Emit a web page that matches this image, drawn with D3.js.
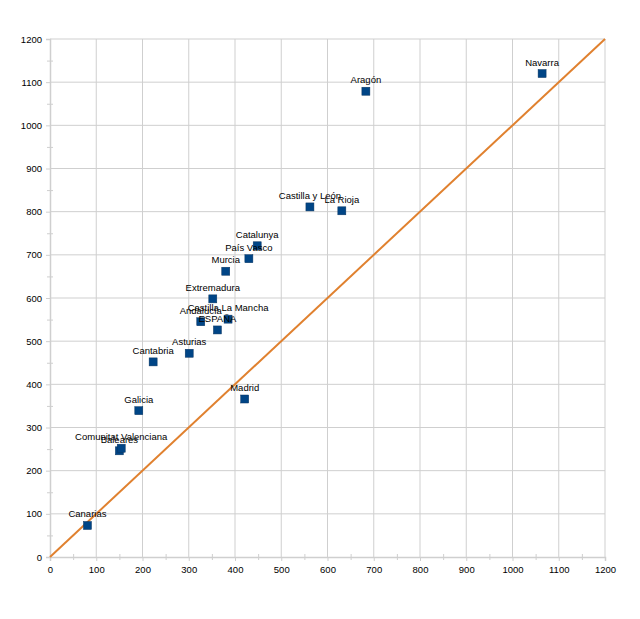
<!DOCTYPE html>
<html>
<head>
<meta charset="utf-8">
<script src="https://cdn.jsdelivr.net/npm/d3@7"></script>
<style>
  body { margin: 0; background: #fff; }
  svg text { font-family: "Liberation Sans", Arial, sans-serif; }
</style>
</head>
<body>
<script>
// regions and their values (x, y)
const regions = ["Canarias", "Baleares", "Comunitat Valenciana", "Galicia", "Cantabria",
  "Asturias", "Andalucía", "ESPAÑA", "Castilla La Mancha", "Extremadura", "Murcia",
  "País Vasco", "Catalunya", "Castilla y León", "La Rioja", "Aragón", "Navarra", "Madrid"];
const xValues = [81, 150, 154, 192, 223, 301, 326, 362, 385, 352, 380, 430, 448, 562, 631, 683, 1064, 421];
const yValues = [73, 246, 252, 339, 452, 472, 545, 526, 551, 598, 662, 691, 721, 811, 802, 1079, 1120, 366];
const ticks = [0, 100, 200, 300, 400, 500, 600, 700, 800, 900, 1000, 1100, 1200];
const minorTicks = d3.range(50, 1200, 100);
const diagonal = [0, 1200];

const W = 640, H = 619;
const margin = { top: 39, right: 35, bottom: 62, left: 50 };
const width = W - margin.left - margin.right;
const height = H - margin.top - margin.bottom;

const svg = d3.select("body").append("svg")
    .attr("width", W)
    .attr("height", H);
const g = svg.append("g")
    .attr("transform", `translate(${margin.left}, ${margin.top})`);

const x = d3.scaleLinear().domain([0, 1200]).range([0, width]);
const y = d3.scaleLinear().domain([0, 1200]).range([height, 0]);

const gridColor = "#cfcfcf";
const fmt = d3.format("d");

// grid
g.append("g").selectAll("line").data(ticks.slice(1)).enter().append("line")
    .attr("x1", 0).attr("x2", width)
    .attr("y1", d => y(d)).attr("y2", d => y(d))
    .attr("stroke", gridColor).attr("stroke-width", 1);
g.append("g").selectAll("line").data(ticks.slice(1)).enter().append("line")
    .attr("y1", 0).attr("y2", height)
    .attr("x1", d => x(d)).attr("x2", d => x(d))
    .attr("stroke", gridColor).attr("stroke-width", 1);

// axes
const xAxis = g.append("g")
    .attr("transform", `translate(0, ${height})`)
    .call(d3.axisBottom(x).tickValues(ticks).tickFormat(fmt).tickSize(4).tickPadding(5));
const xMinor = g.append("g")
    .attr("transform", `translate(0, ${height})`)
    .call(d3.axisBottom(x).tickValues(minorTicks).tickSize(3).tickFormat(""));
const xMinorUp = g.append("g")
    .attr("transform", `translate(0, ${height})`)
    .call(d3.axisTop(x).tickValues(minorTicks).tickSize(3).tickFormat(""));
const yAxis = g.append("g")
    .call(d3.axisLeft(y).tickValues(ticks).tickFormat(fmt).tickSize(4).tickPadding(4));
const yMinor = g.append("g")
    .call(d3.axisLeft(y).tickValues(minorTicks).tickSize(3).tickFormat(""));
const yMinorIn = g.append("g")
    .call(d3.axisRight(y).tickValues(minorTicks).tickSize(3).tickFormat(""));

[xAxis, xMinor, xMinorUp, yAxis, yMinor, yMinorIn].forEach(a => {
    a.selectAll("path").attr("stroke", gridColor).attr("stroke-width", 1.5);
    a.selectAll("line").attr("stroke", gridColor);
    a.selectAll("text").attr("fill", "#000").style("font-size", "9.5px");
});
[xMinor, xMinorUp, yMinor, yMinorIn].forEach(a => a.select("path").remove());

// diagonal
g.append("line")
    .attr("x1", x(diagonal[0])).attr("y1", y(diagonal[0]))
    .attr("x2", x(diagonal[1])).attr("y2", y(diagonal[1]))
    .attr("stroke", "#e0812f").attr("stroke-width", 2);

const pts = regions.map((r, i) => ({ name: r, x: xValues[i], y: yValues[i] }));

// points
g.selectAll(".pt").data(pts).enter().append("rect")
    .attr("class", "pt")
    .attr("x", d => x(d.x) - 4).attr("y", d => y(d.y) - 4)
    .attr("width", 8).attr("height", 8)
    .attr("fill", "#004586")
    .attr("stroke", "#0a3560").attr("stroke-width", 0.5);

// labels
g.selectAll(".lbl").data(pts).enter().append("text")
    .attr("class", "lbl")
    .attr("x", d => x(d.x))
    .attr("y", d => y(d.y) - 8)
    .attr("text-anchor", "middle")
    .style("font-size", "9.5px")
    .attr("fill", "#000")
    .text(d => d.name);
</script>
</body>
</html>
